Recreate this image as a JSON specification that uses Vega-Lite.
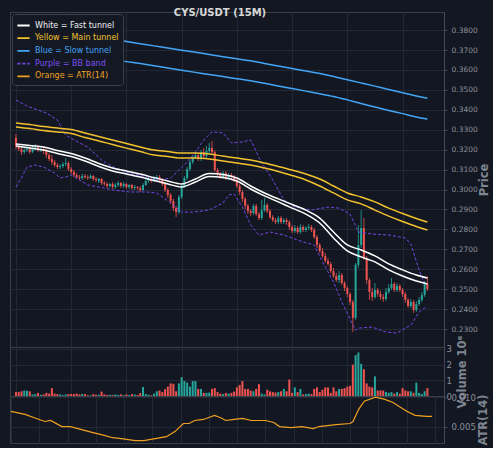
{
"$schema": "https://vega.github.io/schema/vega-lite/v6.json",
"background": "#131722",
"padding": {"left": 8, "top": 7, "right": 2, "bottom": 2},
"spacing": 0,
"bounds": "flush",
"config": {
  "font": "DejaVu Sans",
  "view": {"stroke": "#3a3e49", "strokeWidth": 1},
  "axis": {"labelFont": "DejaVu Sans", "labelFontSize": 7.5, "labelColor": "#8c909a", "titleFont": "DejaVu Sans", "titleFontSize": 11.5, "titleFontWeight": "bold", "titleColor": "#7f8590", "gridColor": "#232835", "gridWidth": 1, "domainColor": "#454955", "tickColor": "#454955", "tickSize": 3, "labelPadding": 4, "labelOverlap": false, "labelSeparation": 0},
  "axisY": {"labelOverlap": false, "labelBound": false, "labelFlush": false},
  "axisX": {"minExtent": 0, "maxExtent": 0, "labels": false, "ticks": false, "domain": false, "title": null, "grid": true, "values": [18.05, 36.8, 55.9, 74.7, 93.1, 112.2, 130.9, 149.3]}
},
"resolve": {"scale": {"color": "independent"}, "legend": {"color": "independent"}},
"datasets": {
"candles": [
{"i":0,"o":0.3259,"h":0.3279,"l":0.3203,"c":0.3219,"v":0.25},
{"i":1,"o":0.3219,"h":0.3229,"l":0.3193,"c":0.3203,"v":0.25},
{"i":2,"o":0.3203,"h":0.3214,"l":0.3173,"c":0.3188,"v":0.3},
{"i":3,"o":0.3188,"h":0.3209,"l":0.3178,"c":0.3198,"v":0.35},
{"i":4,"o":0.3198,"h":0.3219,"l":0.3188,"c":0.3203,"v":0.33},
{"i":5,"o":0.3203,"h":0.3214,"l":0.3178,"c":0.3188,"v":0.3},
{"i":6,"o":0.3188,"h":0.3219,"l":0.3183,"c":0.3209,"v":0.1},
{"i":7,"o":0.3209,"h":0.3229,"l":0.3198,"c":0.3214,"v":0.12},
{"i":8,"o":0.3214,"h":0.3224,"l":0.3188,"c":0.3198,"v":0.2},
{"i":9,"o":0.3198,"h":0.3214,"l":0.3188,"c":0.3203,"v":0.08},
{"i":10,"o":0.3203,"h":0.3214,"l":0.3178,"c":0.3193,"v":0.1},
{"i":11,"o":0.3193,"h":0.3203,"l":0.3158,"c":0.3173,"v":0.2},
{"i":12,"o":0.3173,"h":0.3183,"l":0.3143,"c":0.3153,"v":0.15},
{"i":13,"o":0.3153,"h":0.3173,"l":0.3123,"c":0.3138,"v":0.5},
{"i":14,"o":0.3138,"h":0.3148,"l":0.3113,"c":0.3123,"v":0.15},
{"i":15,"o":0.3123,"h":0.3133,"l":0.3103,"c":0.3113,"v":0.12},
{"i":16,"o":0.3113,"h":0.3128,"l":0.3103,"c":0.3118,"v":0.1},
{"i":17,"o":0.3118,"h":0.3138,"l":0.3108,"c":0.3128,"v":0.05},
{"i":18,"o":0.3128,"h":0.3158,"l":0.3118,"c":0.3133,"v":0.1},
{"i":19,"o":0.3133,"h":0.3143,"l":0.3093,"c":0.3103,"v":0.12},
{"i":20,"o":0.3103,"h":0.3113,"l":0.3078,"c":0.3088,"v":0.13},
{"i":21,"o":0.3088,"h":0.3098,"l":0.3063,"c":0.3073,"v":0.12},
{"i":22,"o":0.3073,"h":0.3083,"l":0.3053,"c":0.3063,"v":0.15},
{"i":23,"o":0.3063,"h":0.3073,"l":0.3048,"c":0.3058,"v":0.1},
{"i":24,"o":0.3058,"h":0.3078,"l":0.3048,"c":0.3068,"v":0.13},
{"i":25,"o":0.3068,"h":0.3078,"l":0.3053,"c":0.3063,"v":0.12},
{"i":26,"o":0.3063,"h":0.3073,"l":0.3048,"c":0.3058,"v":0.05},
{"i":27,"o":0.3058,"h":0.3078,"l":0.3053,"c":0.3068,"v":0.04},
{"i":28,"o":0.3068,"h":0.3073,"l":0.3043,"c":0.3053,"v":0.12},
{"i":29,"o":0.3053,"h":0.3063,"l":0.3038,"c":0.3048,"v":0.08},
{"i":30,"o":0.3043,"h":0.3058,"l":0.3033,"c":0.3053,"v":0.08},
{"i":31,"o":0.3053,"h":0.3058,"l":0.3023,"c":0.3033,"v":0.28},
{"i":32,"o":0.3033,"h":0.3043,"l":0.3018,"c":0.3028,"v":0.1},
{"i":33,"o":0.3028,"h":0.3038,"l":0.3008,"c":0.3018,"v":0.07},
{"i":34,"o":0.3018,"h":0.3033,"l":0.3008,"c":0.3028,"v":0.08},
{"i":35,"o":0.3028,"h":0.3038,"l":0.3003,"c":0.3013,"v":0.06},
{"i":36,"o":0.3013,"h":0.3033,"l":0.3003,"c":0.3023,"v":0.1},
{"i":37,"o":0.3023,"h":0.3043,"l":0.3013,"c":0.3033,"v":0.06},
{"i":38,"o":0.3033,"h":0.3038,"l":0.3008,"c":0.3018,"v":0.1},
{"i":39,"o":0.3018,"h":0.3038,"l":0.3008,"c":0.3028,"v":0.05},
{"i":40,"o":0.3028,"h":0.3033,"l":0.3003,"c":0.3013,"v":0.1},
{"i":41,"o":0.3013,"h":0.3028,"l":0.3003,"c":0.3023,"v":0.06},
{"i":42,"o":0.3023,"h":0.3028,"l":0.2998,"c":0.3008,"v":0.12},
{"i":43,"o":0.3008,"h":0.3023,"l":0.2998,"c":0.3013,"v":0.1},
{"i":44,"o":0.3013,"h":0.3018,"l":0.2998,"c":0.3008,"v":0.06},
{"i":45,"o":0.3008,"h":0.3018,"l":0.2988,"c":0.2998,"v":0.18},
{"i":46,"o":0.2998,"h":0.3033,"l":0.2993,"c":0.3023,"v":0.57},
{"i":47,"o":0.3023,"h":0.3053,"l":0.3018,"c":0.3043,"v":0.12},
{"i":48,"o":0.3043,"h":0.3063,"l":0.3033,"c":0.3053,"v":0.08},
{"i":49,"o":0.3053,"h":0.3063,"l":0.3033,"c":0.3043,"v":0.04},
{"i":50,"o":0.3043,"h":0.3068,"l":0.3038,"c":0.3058,"v":0.15},
{"i":51,"o":0.3053,"h":0.3073,"l":0.3043,"c":0.3063,"v":0.3},
{"i":52,"o":0.3063,"h":0.3073,"l":0.3038,"c":0.3048,"v":0.35},
{"i":53,"o":0.3048,"h":0.3058,"l":0.3018,"c":0.3028,"v":0.25},
{"i":54,"o":0.3028,"h":0.3038,"l":0.2988,"c":0.2998,"v":0.43},
{"i":55,"o":0.2998,"h":0.3008,"l":0.2958,"c":0.2973,"v":0.6},
{"i":56,"o":0.2973,"h":0.2983,"l":0.2928,"c":0.2943,"v":0.8},
{"i":57,"o":0.2943,"h":0.2953,"l":0.2892,"c":0.2907,"v":0.78},
{"i":58,"o":0.2907,"h":0.2918,"l":0.2862,"c":0.2887,"v":0.3},
{"i":59,"o":0.2887,"h":0.2973,"l":0.2877,"c":0.2963,"v":0.8},
{"i":60,"o":0.2963,"h":0.3028,"l":0.2953,"c":0.3018,"v":1.2},
{"i":61,"o":0.3018,"h":0.3068,"l":0.3008,"c":0.3058,"v":0.95},
{"i":62,"o":0.3058,"h":0.3113,"l":0.3048,"c":0.3103,"v":0.85},
{"i":63,"o":0.3103,"h":0.3148,"l":0.3093,"c":0.3138,"v":0.6},
{"i":64,"o":0.3138,"h":0.3173,"l":0.3128,"c":0.3163,"v":0.95},
{"i":65,"o":0.3163,"h":0.3188,"l":0.3153,"c":0.3173,"v":0.95},
{"i":66,"o":0.3173,"h":0.3183,"l":0.3143,"c":0.3153,"v":0.45},
{"i":67,"o":0.3153,"h":0.3198,"l":0.3143,"c":0.3188,"v":0.45},
{"i":68,"o":0.3188,"h":0.3209,"l":0.3158,"c":0.3168,"v":0.2},
{"i":69,"o":0.3168,"h":0.3219,"l":0.3158,"c":0.3193,"v":0.2},
{"i":70,"o":0.3193,"h":0.3234,"l":0.3183,"c":0.3209,"v":0.22},
{"i":71,"o":0.3209,"h":0.3244,"l":0.3178,"c":0.3188,"v":0.45},
{"i":72,"o":0.3188,"h":0.3198,"l":0.3088,"c":0.3098,"v":0.5},
{"i":73,"o":0.3098,"h":0.3108,"l":0.3068,"c":0.3078,"v":0.25},
{"i":74,"o":0.3078,"h":0.3088,"l":0.3053,"c":0.3063,"v":0.15},
{"i":75,"o":0.3063,"h":0.3093,"l":0.3053,"c":0.3083,"v":0.12},
{"i":76,"o":0.3083,"h":0.3093,"l":0.3048,"c":0.3058,"v":0.2},
{"i":77,"o":0.3058,"h":0.3083,"l":0.3048,"c":0.3073,"v":0.15},
{"i":78,"o":0.3073,"h":0.3083,"l":0.3048,"c":0.3063,"v":0.2},
{"i":79,"o":0.3063,"h":0.3073,"l":0.3038,"c":0.3048,"v":0.28},
{"i":80,"o":0.3048,"h":0.3058,"l":0.3008,"c":0.3018,"v":0.55},
{"i":81,"o":0.3018,"h":0.3028,"l":0.2973,"c":0.2988,"v":0.7},
{"i":82,"o":0.2988,"h":0.2998,"l":0.2938,"c":0.2953,"v":0.95},
{"i":83,"o":0.2953,"h":0.2963,"l":0.2902,"c":0.2918,"v":0.45},
{"i":84,"o":0.2918,"h":0.2928,"l":0.2877,"c":0.2892,"v":0.45},
{"i":85,"o":0.2892,"h":0.2902,"l":0.2867,"c":0.2882,"v":0.35},
{"i":86,"o":0.2882,"h":0.2928,"l":0.2872,"c":0.2918,"v":0.3},
{"i":87,"o":0.2918,"h":0.2928,"l":0.2867,"c":0.2877,"v":0.45},
{"i":88,"o":0.2877,"h":0.2887,"l":0.2847,"c":0.2857,"v":0.75},
{"i":89,"o":0.2857,"h":0.2948,"l":0.2847,"c":0.2897,"v":0.15},
{"i":90,"o":0.2897,"h":0.2958,"l":0.2887,"c":0.2923,"v":0.1},
{"i":91,"o":0.2923,"h":0.2933,"l":0.2882,"c":0.2892,"v":0.4},
{"i":92,"o":0.2892,"h":0.2902,"l":0.2852,"c":0.2862,"v":0.3},
{"i":93,"o":0.2862,"h":0.2872,"l":0.2837,"c":0.2847,"v":0.25},
{"i":94,"o":0.2847,"h":0.2857,"l":0.2827,"c":0.2837,"v":0.22},
{"i":95,"o":0.2837,"h":0.2867,"l":0.2827,"c":0.2857,"v":0.25},
{"i":96,"o":0.2857,"h":0.2867,"l":0.2827,"c":0.2837,"v":0.3},
{"i":97,"o":0.2837,"h":0.2857,"l":0.2827,"c":0.2847,"v":0.45},
{"i":98,"o":0.2847,"h":0.2857,"l":0.2822,"c":0.2837,"v":0.3},
{"i":99,"o":0.2837,"h":0.2847,"l":0.2797,"c":0.2812,"v":1.05},
{"i":100,"o":0.2812,"h":0.2822,"l":0.2782,"c":0.2792,"v":0.2},
{"i":101,"o":0.2792,"h":0.2822,"l":0.2782,"c":0.2807,"v":0.55},
{"i":102,"o":0.2807,"h":0.2817,"l":0.2777,"c":0.2787,"v":0.25},
{"i":103,"o":0.2787,"h":0.2827,"l":0.2777,"c":0.2812,"v":0.45},
{"i":104,"o":0.2812,"h":0.2822,"l":0.2787,"c":0.2797,"v":0.1},
{"i":105,"o":0.2797,"h":0.2817,"l":0.2787,"c":0.2807,"v":0.12},
{"i":106,"o":0.2807,"h":0.2827,"l":0.2797,"c":0.2812,"v":0.15},
{"i":107,"o":0.2812,"h":0.2822,"l":0.2787,"c":0.2797,"v":0.12},
{"i":108,"o":0.2797,"h":0.2807,"l":0.2752,"c":0.2762,"v":0.45},
{"i":109,"o":0.2762,"h":0.2772,"l":0.2707,"c":0.2722,"v":0.55},
{"i":110,"o":0.2722,"h":0.2732,"l":0.2682,"c":0.2692,"v":0.25},
{"i":111,"o":0.2692,"h":0.2707,"l":0.2657,"c":0.2667,"v":0.4},
{"i":112,"o":0.2667,"h":0.2682,"l":0.2632,"c":0.2642,"v":0.55},
{"i":113,"o":0.2642,"h":0.2657,"l":0.2617,"c":0.2627,"v":0.55},
{"i":114,"o":0.2627,"h":0.2637,"l":0.2581,"c":0.2591,"v":0.2},
{"i":115,"o":0.2591,"h":0.2607,"l":0.2556,"c":0.2566,"v":0.55},
{"i":116,"o":0.2566,"h":0.2581,"l":0.2536,"c":0.2546,"v":0.3},
{"i":117,"o":0.2546,"h":0.2591,"l":0.2531,"c":0.2571,"v":0.45},
{"i":118,"o":0.2571,"h":0.2581,"l":0.2521,"c":0.2531,"v":0.45},
{"i":119,"o":0.2531,"h":0.2541,"l":0.2491,"c":0.2506,"v":0.5},
{"i":120,"o":0.2506,"h":0.2516,"l":0.2461,"c":0.2476,"v":0.6},
{"i":121,"o":0.2476,"h":0.2486,"l":0.2421,"c":0.2436,"v":0.65},
{"i":122,"o":0.2436,"h":0.2446,"l":0.2285,"c":0.2356,"v":2.0},
{"i":123,"o":0.2356,"h":0.2632,"l":0.2346,"c":0.2622,"v":2.6},
{"i":124,"o":0.2622,"h":0.2822,"l":0.2607,"c":0.2722,"v":2.77},
{"i":125,"o":0.2722,"h":0.2897,"l":0.2707,"c":0.2807,"v":2.05},
{"i":126,"o":0.2807,"h":0.2857,"l":0.2647,"c":0.2657,"v":1.7},
{"i":127,"o":0.2657,"h":0.2667,"l":0.2526,"c":0.2546,"v":0.8},
{"i":128,"o":0.2546,"h":0.2556,"l":0.2446,"c":0.2486,"v":0.6},
{"i":129,"o":0.2486,"h":0.2506,"l":0.2441,"c":0.2461,"v":0.55},
{"i":130,"o":0.2461,"h":0.2531,"l":0.2451,"c":0.2496,"v":1.25},
{"i":131,"o":0.2496,"h":0.2506,"l":0.2461,"c":0.2476,"v":0.35},
{"i":132,"o":0.2476,"h":0.2491,"l":0.2446,"c":0.2461,"v":0.35},
{"i":133,"o":0.2461,"h":0.2476,"l":0.2436,"c":0.2451,"v":0.35},
{"i":134,"o":0.2451,"h":0.2506,"l":0.2441,"c":0.2486,"v":0.25},
{"i":135,"o":0.2486,"h":0.2526,"l":0.2476,"c":0.2506,"v":0.2},
{"i":136,"o":0.2506,"h":0.2556,"l":0.2496,"c":0.2526,"v":0.25},
{"i":137,"o":0.2526,"h":0.2536,"l":0.2486,"c":0.2496,"v":0.15},
{"i":138,"o":0.2496,"h":0.2531,"l":0.2486,"c":0.2516,"v":0.25},
{"i":139,"o":0.2516,"h":0.2526,"l":0.2486,"c":0.2496,"v":0.15},
{"i":140,"o":0.2496,"h":0.2506,"l":0.2461,"c":0.2476,"v":0.5},
{"i":141,"o":0.2476,"h":0.2486,"l":0.2431,"c":0.2446,"v":0.35},
{"i":142,"o":0.2446,"h":0.2456,"l":0.2406,"c":0.2416,"v":0.3},
{"i":143,"o":0.2416,"h":0.2451,"l":0.2406,"c":0.2436,"v":0.3},
{"i":144,"o":0.2436,"h":0.2446,"l":0.2381,"c":0.2396,"v":0.2},
{"i":145,"o":0.2396,"h":0.2441,"l":0.2386,"c":0.2426,"v":0.85},
{"i":146,"o":0.2426,"h":0.2461,"l":0.2416,"c":0.2446,"v":0.2},
{"i":147,"o":0.2446,"h":0.2486,"l":0.2436,"c":0.2471,"v":0.12},
{"i":148,"o":0.2471,"h":0.2541,"l":0.2461,"c":0.2526,"v":0.3},
{"i":149,"o":0.2526,"h":0.2566,"l":0.2491,"c":0.2501,"v":0.5}
],
"tunnels": [
{"i":0,"fu":0.3229,"fl":0.3219,"mu":0.3334,"ml":0.3314,"su":0.3831,"sl":0.3730},
{"i":5,"fu":0.3221,"fl":0.3209,"mu":0.3326,"ml":0.3306,"su":0.3820,"sl":0.3719},
{"i":10,"fu":0.3214,"fl":0.3198,"mu":0.3316,"ml":0.3296,"su":0.3809,"sl":0.3708},
{"i":15,"fu":0.3196,"fl":0.3181,"mu":0.3309,"ml":0.3289,"su":0.3797,"sl":0.3697},
{"i":20,"fu":0.3181,"fl":0.3166,"mu":0.3301,"ml":0.3281,"su":0.3786,"sl":0.3686},
{"i":25,"fu":0.3158,"fl":0.3143,"mu":0.3284,"ml":0.3261,"su":0.3775,"sl":0.3675},
{"i":30,"fu":0.3131,"fl":0.3116,"mu":0.3266,"ml":0.3244,"su":0.3764,"sl":0.3664},
{"i":35,"fu":0.3108,"fl":0.3093,"mu":0.3249,"ml":0.3226,"su":0.3754,"sl":0.3653},
{"i":40,"fu":0.3093,"fl":0.3078,"mu":0.3231,"ml":0.3208,"su":0.3743,"sl":0.3642},
{"i":45,"fu":0.3078,"fl":0.3063,"mu":0.3214,"ml":0.3191,"su":0.3732,"sl":0.3632},
{"i":50,"fu":0.3060,"fl":0.3045,"mu":0.3198,"ml":0.3173,"su":0.3721,"sl":0.3621},
{"i":55,"fu":0.3043,"fl":0.3028,"mu":0.3191,"ml":0.3166,"su":0.3710,"sl":0.3610},
{"i":60,"fu":0.3028,"fl":0.3013,"mu":0.3183,"ml":0.3158,"su":0.3699,"sl":0.3599},
{"i":65,"fu":0.3053,"fl":0.3038,"mu":0.3183,"ml":0.3158,"su":0.3689,"sl":0.3588},
{"i":70,"fu":0.3081,"fl":0.3066,"mu":0.3178,"ml":0.3153,"su":0.3678,"sl":0.3577},
{"i":75,"fu":0.3076,"fl":0.3061,"mu":0.3168,"ml":0.3143,"su":0.3667,"sl":0.3567},
{"i":80,"fu":0.3058,"fl":0.3043,"mu":0.3158,"ml":0.3133,"su":0.3657,"sl":0.3556},
{"i":85,"fu":0.3018,"fl":0.3003,"mu":0.3148,"ml":0.3123,"su":0.3646,"sl":0.3546},
{"i":90,"fu":0.2983,"fl":0.2968,"mu":0.3133,"ml":0.3108,"su":0.3633,"sl":0.3533},
{"i":95,"fu":0.2953,"fl":0.2938,"mu":0.3116,"ml":0.3091,"su":0.3620,"sl":0.3520},
{"i":100,"fu":0.2925,"fl":0.2907,"mu":0.3098,"ml":0.3071,"su":0.3607,"sl":0.3507},
{"i":105,"fu":0.2897,"fl":0.2877,"mu":0.3078,"ml":0.3048,"su":0.3595,"sl":0.3494},
{"i":110,"fu":0.2857,"fl":0.2832,"mu":0.3053,"ml":0.3018,"su":0.3582,"sl":0.3481},
{"i":115,"fu":0.2787,"fl":0.2757,"mu":0.3018,"ml":0.2983,"su":0.3567,"sl":0.3467},
{"i":120,"fu":0.2722,"fl":0.2692,"mu":0.2983,"ml":0.2948,"su":0.3551,"sl":0.3450},
{"i":125,"fu":0.2697,"fl":0.2662,"mu":0.2963,"ml":0.2928,"su":0.3535,"sl":0.3432},
{"i":130,"fu":0.2667,"fl":0.2637,"mu":0.2938,"ml":0.2897,"su":0.3519,"sl":0.3414},
{"i":135,"fu":0.2627,"fl":0.2597,"mu":0.2907,"ml":0.2867,"su":0.3502,"sl":0.3397},
{"i":140,"fu":0.2597,"fl":0.2566,"mu":0.2880,"ml":0.2840,"su":0.3486,"sl":0.3381},
{"i":145,"fu":0.2571,"fl":0.2541,"mu":0.2855,"ml":0.2815,"su":0.3470,"sl":0.3364},
{"i":149,"fu":0.2556,"fl":0.2526,"mu":0.2837,"ml":0.2797,"su":0.3458,"sl":0.3354}
],
"bbu": [
{"i":0,"b":0.3449},{"i":4,"b":0.3419},{"i":11,"b":0.3384},{"i":15,"b":0.3349},{"i":18,"b":0.3274},{"i":21,"b":0.3249},{"i":26,"b":0.3213},{"i":31,"b":0.3148},{"i":36,"b":0.3108},{"i":42,"b":0.3078},{"i":48,"b":0.3063},{"i":52,"b":0.3048},{"i":56,"b":0.3058},{"i":61,"b":0.3123},{"i":65,"b":0.3188},{"i":68,"b":0.3249},{"i":71,"b":0.3289},{"i":75,"b":0.3284},{"i":78,"b":0.3234},{"i":82,"b":0.3239},{"i":85,"b":0.3249},{"i":89,"b":0.3133},{"i":93,"b":0.3048},{"i":97,"b":0.2948},{"i":101,"b":0.2912},{"i":107,"b":0.2897},{"i":113,"b":0.2912},{"i":117,"b":0.2907},{"i":121,"b":0.2877},{"i":124,"b":0.2787},{"i":129,"b":0.2777},{"i":135,"b":0.2772},{"i":141,"b":0.2757},{"i":143,"b":0.2727},{"i":146,"b":0.2596},{"i":148,"b":0.2526},{"i":149,"b":0.2526}
],
"bbl": [
{"i":0,"b":0.3013},{"i":2,"b":0.3058},{"i":4,"b":0.3113},{"i":7,"b":0.3123},{"i":10,"b":0.3113},{"i":14,"b":0.3083},{"i":16,"b":0.3058},{"i":18,"b":0.3063},{"i":20,"b":0.3073},{"i":23,"b":0.3048},{"i":26,"b":0.3023},{"i":30,"b":0.3013},{"i":35,"b":0.2998},{"i":41,"b":0.2988},{"i":47,"b":0.2988},{"i":51,"b":0.2983},{"i":56,"b":0.2933},{"i":60,"b":0.2887},{"i":64,"b":0.2887},{"i":70,"b":0.2897},{"i":75,"b":0.2933},{"i":77,"b":0.2973},{"i":79,"b":0.2978},{"i":82,"b":0.2913},{"i":85,"b":0.2822},{"i":88,"b":0.2772},{"i":92,"b":0.2787},{"i":97,"b":0.2772},{"i":100,"b":0.2757},{"i":104,"b":0.2737},{"i":108,"b":0.2722},{"i":111,"b":0.2637},{"i":115,"b":0.2536},{"i":118,"b":0.2436},{"i":122,"b":0.2321},{"i":123,"b":0.2295},{"i":124,"b":0.2305},{"i":129,"b":0.2310},{"i":134,"b":0.2285},{"i":138,"b":0.2280},{"i":141,"b":0.2305},{"i":143,"b":0.2320},{"i":146,"b":0.2386},{"i":148,"b":0.2406},{"i":149,"b":0.2411}
],
"atr": [
{"i":0,"a":0.00759},{"i":5,"a":0.00707},{"i":9,"a":0.00638},{"i":12,"a":0.00586},{"i":14,"a":0.00603},{"i":18,"a":0.00500},{"i":21,"a":0.00500},{"i":25,"a":0.00448},{"i":29,"a":0.00397},{"i":32,"a":0.00362},{"i":36,"a":0.00310},{"i":39,"a":0.00293},{"i":44,"a":0.00259},{"i":47,"a":0.00259},{"i":49,"a":0.00276},{"i":51,"a":0.00293},{"i":55,"a":0.00328},{"i":58,"a":0.00414},{"i":61,"a":0.00552},{"i":63,"a":0.00552},{"i":65,"a":0.00603},{"i":68,"a":0.00621},{"i":70,"a":0.00655},{"i":72,"a":0.00690},{"i":74,"a":0.00655},{"i":76,"a":0.00603},{"i":79,"a":0.00621},{"i":82,"a":0.00638},{"i":85,"a":0.00603},{"i":90,"a":0.00603},{"i":93,"a":0.00569},{"i":95,"a":0.00500},{"i":99,"a":0.00483},{"i":103,"a":0.00500},{"i":107,"a":0.00466},{"i":109,"a":0.00500},{"i":115,"a":0.00534},{"i":120,"a":0.00552},{"i":121,"a":0.00586},{"i":123,"a":0.00793},{"i":125,"a":0.00931},{"i":129,"a":0.01000},{"i":132,"a":0.00966},{"i":135,"a":0.00914},{"i":140,"a":0.00759},{"i":143,"a":0.00690},{"i":147,"a":0.00672},{"i":149,"a":0.00672}
]
},
"vconcat": [
{
  "width": 434, "height": 335,
  "title": {"text": "CYS/USDT (15M)", "fontSize": 10, "fontWeight": "bold", "color": "#d8d8d8", "font": "DejaVu Sans", "anchor": "middle", "baseline": "middle", "offset": -11, "dx": -7},
  "encoding": {
    "x": {"field": "i", "type": "quantitative", "scale": {"domain": [-0.35, 153.2], "nice": false, "zero": false}, "title": null}
  },
  "layer": [
    {"data": {"name": "candles"}, "mark": {"type": "rule", "strokeWidth": 0.8},
     "encoding": {
       "y": {"field": "l", "type": "quantitative", "title": "Price", "scale": {"domain": [0.221, 0.3891], "nice": false, "zero": false},
             "axis": {"orient": "right", "tickCount": 16, "format": ".4f", "title": "Price", "titleAngle": 270, "titlePadding": 12, "grid": true, "labelOverlap": false}},
       "y2": {"field": "h"},
       "color": {"condition": {"test": "datum.c >= datum.o", "value": "#26a69a"}, "value": "#ef5350"}
     }},
    {"data": {"name": "candles"}, "mark": {"type": "bar", "size": 2},
     "encoding": {
       "y": {"field": "o", "type": "quantitative", "title": "Price"},
       "y2": {"field": "c"},
       "color": {"condition": {"test": "datum.c >= datum.o", "value": "#26a69a"}, "value": "#ef5350"}
     }},
    {"data": {"name": "bbu"}, "mark": {"type": "line", "strokeWidth": 1, "strokeDash": [3, 2]},
     "encoding": {
       "y": {"field": "b", "type": "quantitative", "title": "Price"},
       "color": {"datum": "Purple = BB band", "type": "nominal",
         "scale": {"domain": ["White = Fast tunnel", "Yellow = Main tunnel", "Blue = Slow tunnel", "Purple = BB band", "Orange = ATR(14)"], "range": ["#ffffff", "#f2c12e", "#42a5f5", "#7447e6", "#f0a020"]},
         "legend": {"orient": "top-left", "offset": 2, "title": null, "fillColor": "#141823", "strokeColor": "#3a3f4a", "cornerRadius": 3, "padding": 4, "labelFontSize": 8, "labelFont": "DejaVu Sans", "symbolType": "stroke", "symbolSize": 150, "symbolStrokeWidth": 1.8, "rowPadding": 0.7,
           "encode": {"labels": {"update": {"fill": {"signal": "datum.value === 'White = Fast tunnel' ? '#f0f0f0' : datum.value === 'Yellow = Main tunnel' ? '#f2c12e' : datum.value === 'Blue = Slow tunnel' ? '#42a5f5' : datum.value === 'Purple = BB band' ? '#7a50ee' : '#f0a020'"}}},
                      "symbols": {"update": {"strokeDash": {"signal": "datum.value === 'Purple = BB band' ? [3,2] : [1,0]"}}}}}}
     }},
    {"data": {"name": "bbl"}, "mark": {"type": "line", "strokeWidth": 1, "strokeDash": [3, 2]},
     "encoding": {
       "y": {"field": "b", "type": "quantitative", "title": "Price"},
       "color": {"datum": "Purple = BB band", "type": "nominal"}
     }},
    {"data": {"name": "tunnels"}, "mark": {"type": "line", "strokeWidth": 1.5, "interpolate": "monotone"},
     "encoding": {"y": {"field": "su", "type": "quantitative", "title": "Price"}, "color": {"datum": "Blue = Slow tunnel", "type": "nominal"}}},
    {"data": {"name": "tunnels"}, "mark": {"type": "line", "strokeWidth": 1.5, "interpolate": "monotone"},
     "encoding": {"y": {"field": "sl", "type": "quantitative", "title": "Price"}, "color": {"datum": "Blue = Slow tunnel", "type": "nominal"}}},
    {"data": {"name": "tunnels"}, "mark": {"type": "line", "strokeWidth": 1.5, "interpolate": "monotone"},
     "encoding": {"y": {"field": "mu", "type": "quantitative", "title": "Price"}, "color": {"datum": "Yellow = Main tunnel", "type": "nominal"}}},
    {"data": {"name": "tunnels"}, "mark": {"type": "line", "strokeWidth": 1.5, "interpolate": "monotone"},
     "encoding": {"y": {"field": "ml", "type": "quantitative", "title": "Price"}, "color": {"datum": "Yellow = Main tunnel", "type": "nominal"}}},
    {"data": {"name": "tunnels"}, "mark": {"type": "line", "strokeWidth": 1.5, "interpolate": "monotone"},
     "encoding": {"y": {"field": "fu", "type": "quantitative", "title": "Price"}, "color": {"datum": "White = Fast tunnel", "type": "nominal"}}},
    {"data": {"name": "tunnels"}, "mark": {"type": "line", "strokeWidth": 1.5, "interpolate": "monotone"},
     "encoding": {"y": {"field": "fl", "type": "quantitative", "title": "Price"}, "color": {"datum": "White = Fast tunnel", "type": "nominal"}}}
  ]
},
{
  "width": 434, "height": 49,
  "data": {"name": "candles"},
  "mark": {"type": "bar", "size": 2},
  "encoding": {
    "x": {"field": "i", "type": "quantitative", "scale": {"domain": [-0.35, 153.2], "nice": false, "zero": false}, "title": null},
    "y": {"field": "v", "type": "quantitative", "scale": {"domain": [0, 3.12], "nice": false},
          "axis": {"orient": "right", "tickCount": 3, "format": "d", "title": "Volume  10⁶", "titleAngle": 270, "titlePadding": 16, "tickSize": 0, "labelPadding": 2, "labelFontSize": 8.5, "grid": true, "labelOverlap": false}},
    "color": {"condition": {"test": "datum.c >= datum.o", "value": "#26a69a"}, "value": "#ef5350"}
  }
},
{
  "width": 434, "height": 47,
  "data": {"name": "atr"},
  "mark": {"type": "line", "color": "#f0a020", "strokeWidth": 1.2},
  "encoding": {
    "x": {"field": "i", "type": "quantitative", "scale": {"domain": [-0.35, 153.2], "nice": false, "zero": false}, "title": null},
    "y": {"field": "a", "type": "quantitative", "scale": {"domain": [0.0022, 0.0102], "nice": false, "zero": false},
          "axis": {"orient": "right", "values": [0.005, 0.01], "format": ".3f", "title": "ATR(14)", "titleAngle": 270, "titlePadding": 13, "grid": true, "labelFontSize": 8.5}}
  }
}
]
}
